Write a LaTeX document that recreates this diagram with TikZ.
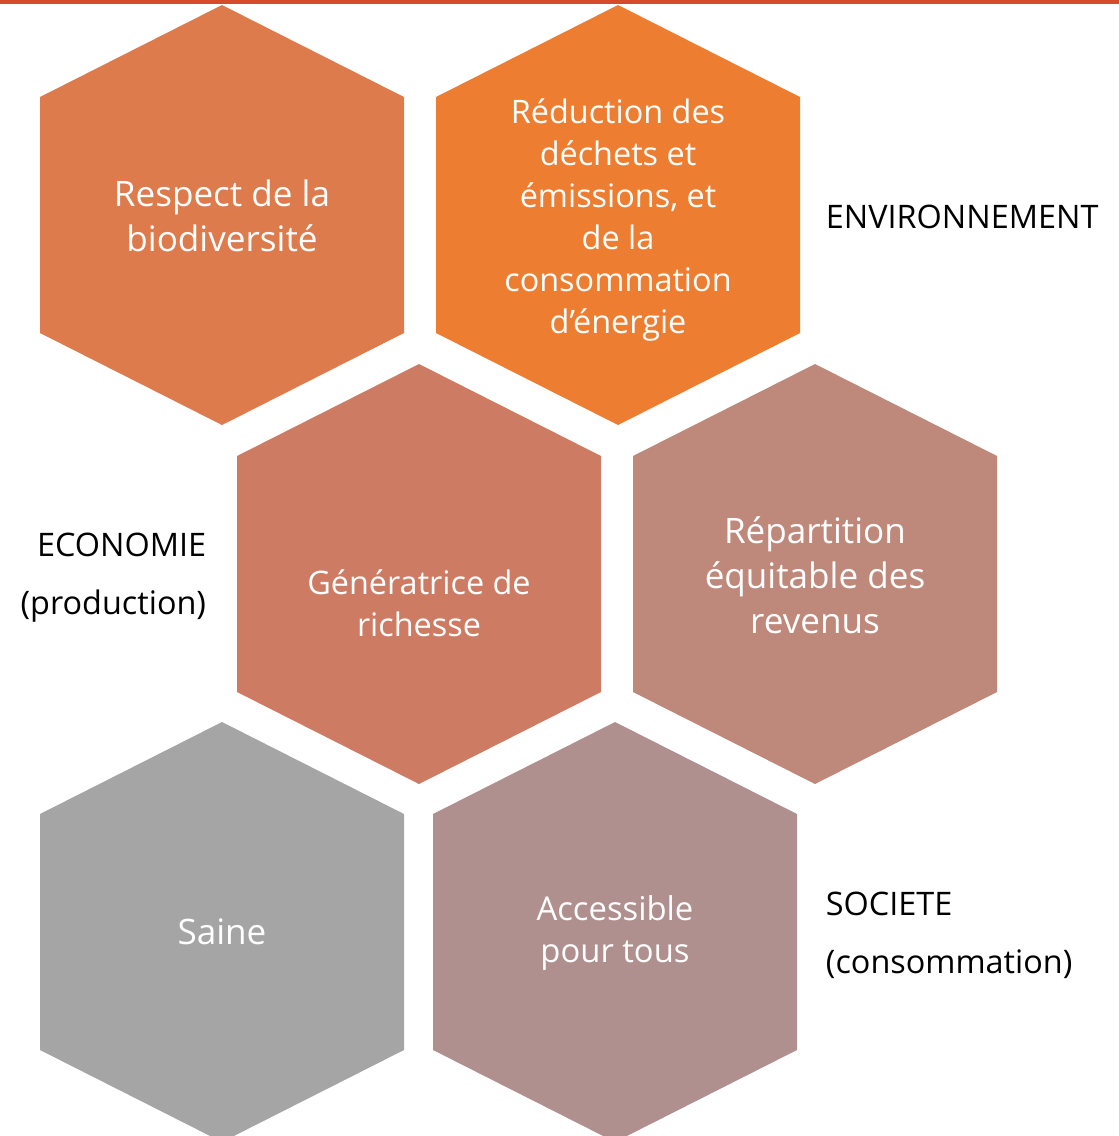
\documentclass[tikz,border=0pt]{standalone}
\usepackage{fontspec}
\setmainfont{Open Sans}
\definecolor{hexA}{HTML}{DD7B4C}
\definecolor{hexB}{HTML}{ED7D31}
\definecolor{hexC}{HTML}{CD7C63}
\definecolor{hexD}{HTML}{BE887B}
\definecolor{hexE}{HTML}{A5A5A5}
\definecolor{hexF}{HTML}{B0908E}
\definecolor{topbar}{HTML}{D84B2A}
\tikzset{every picture/.style={line width=0.75pt}}
\tikzset{
  hextext/.style={text=white,align=center,font=\fontsize{24.3}{31.5}\selectfont},
  bighextext/.style={hextext,font=\fontsize{26.3}{33.75}\selectfont},
  sidetext/.style={text=black,font=\fontsize{24.3}{43.5}\selectfont}
}
\begin{document}
\begin{tikzpicture}[x=0.75pt,y=0.75pt,yscale=-1,xscale=1]
\useasboundingbox (0,0) rectangle (1119,1136);

%Shape: Rectangle [id:topbar]
\fill [topbar] (0,0) rectangle (1119,3.5) ;

%Shape: Hexagon [id:hex1]
\fill [hexA] (222,5) -- (404,97) -- (404,333) -- (222,425) -- (40,333) -- (40,97) -- cycle ;
%Shape: Hexagon [id:hex2]
\fill [hexB] (618,5) -- (800,97) -- (800,333) -- (618,425) -- (436,333) -- (436,97) -- cycle ;
%Shape: Hexagon [id:hex3]
\fill [hexC] (419,364) -- (601,456) -- (601,692) -- (419,784) -- (237,692) -- (237,456) -- cycle ;
%Shape: Hexagon [id:hex4]
\fill [hexD] (815,364) -- (997,456) -- (997,692) -- (815,784) -- (633,692) -- (633,456) -- cycle ;
%Shape: Hexagon [id:hex5]
\fill [hexE] (222,722) -- (404,814) -- (404,1050) -- (222,1142) -- (40,1050) -- (40,814) -- cycle ;
%Shape: Hexagon [id:hex6]
\fill [hexF] (615,722) -- (797,814) -- (797,1050) -- (615,1142) -- (433,1050) -- (433,814) -- cycle ;

% Text Node
\draw (222,216) node (biodiv) [bighextext] {Respect de la\\biodiversité};
% Text Node
\draw (618,220) node (dechets) [hextext] {Réduction des\\déchets et\\émissions, et\\de la\\consommation\\d’énergie};
% Text Node
\draw (419,603) node (richesse) [hextext] {Génératrice de\\richesse};
% Text Node
\draw (815,575) node (revenus) [bighextext] {Répartition\\équitable des\\revenus};
% Text Node
\draw (222,932) node (saine) [bighextext] {Saine};
% Text Node
\draw (615,933) node (access) [hextext,font=\fontsize{24.6}{31.5}\selectfont] {Accessible\\pour tous};

% Text Node
\draw (821,217) node (envir) [sidetext,anchor=west] {ENVIRONNEMENT};
% Text Node
\draw (211,578) node (econ) [sidetext,anchor=east,align=right] {ECONOMIE\\(production)};
% Text Node
\draw (821,935) node (societe) [sidetext,anchor=west,align=left] {SOCIETE\\(consommation)};

\end{tikzpicture}
\end{document}
